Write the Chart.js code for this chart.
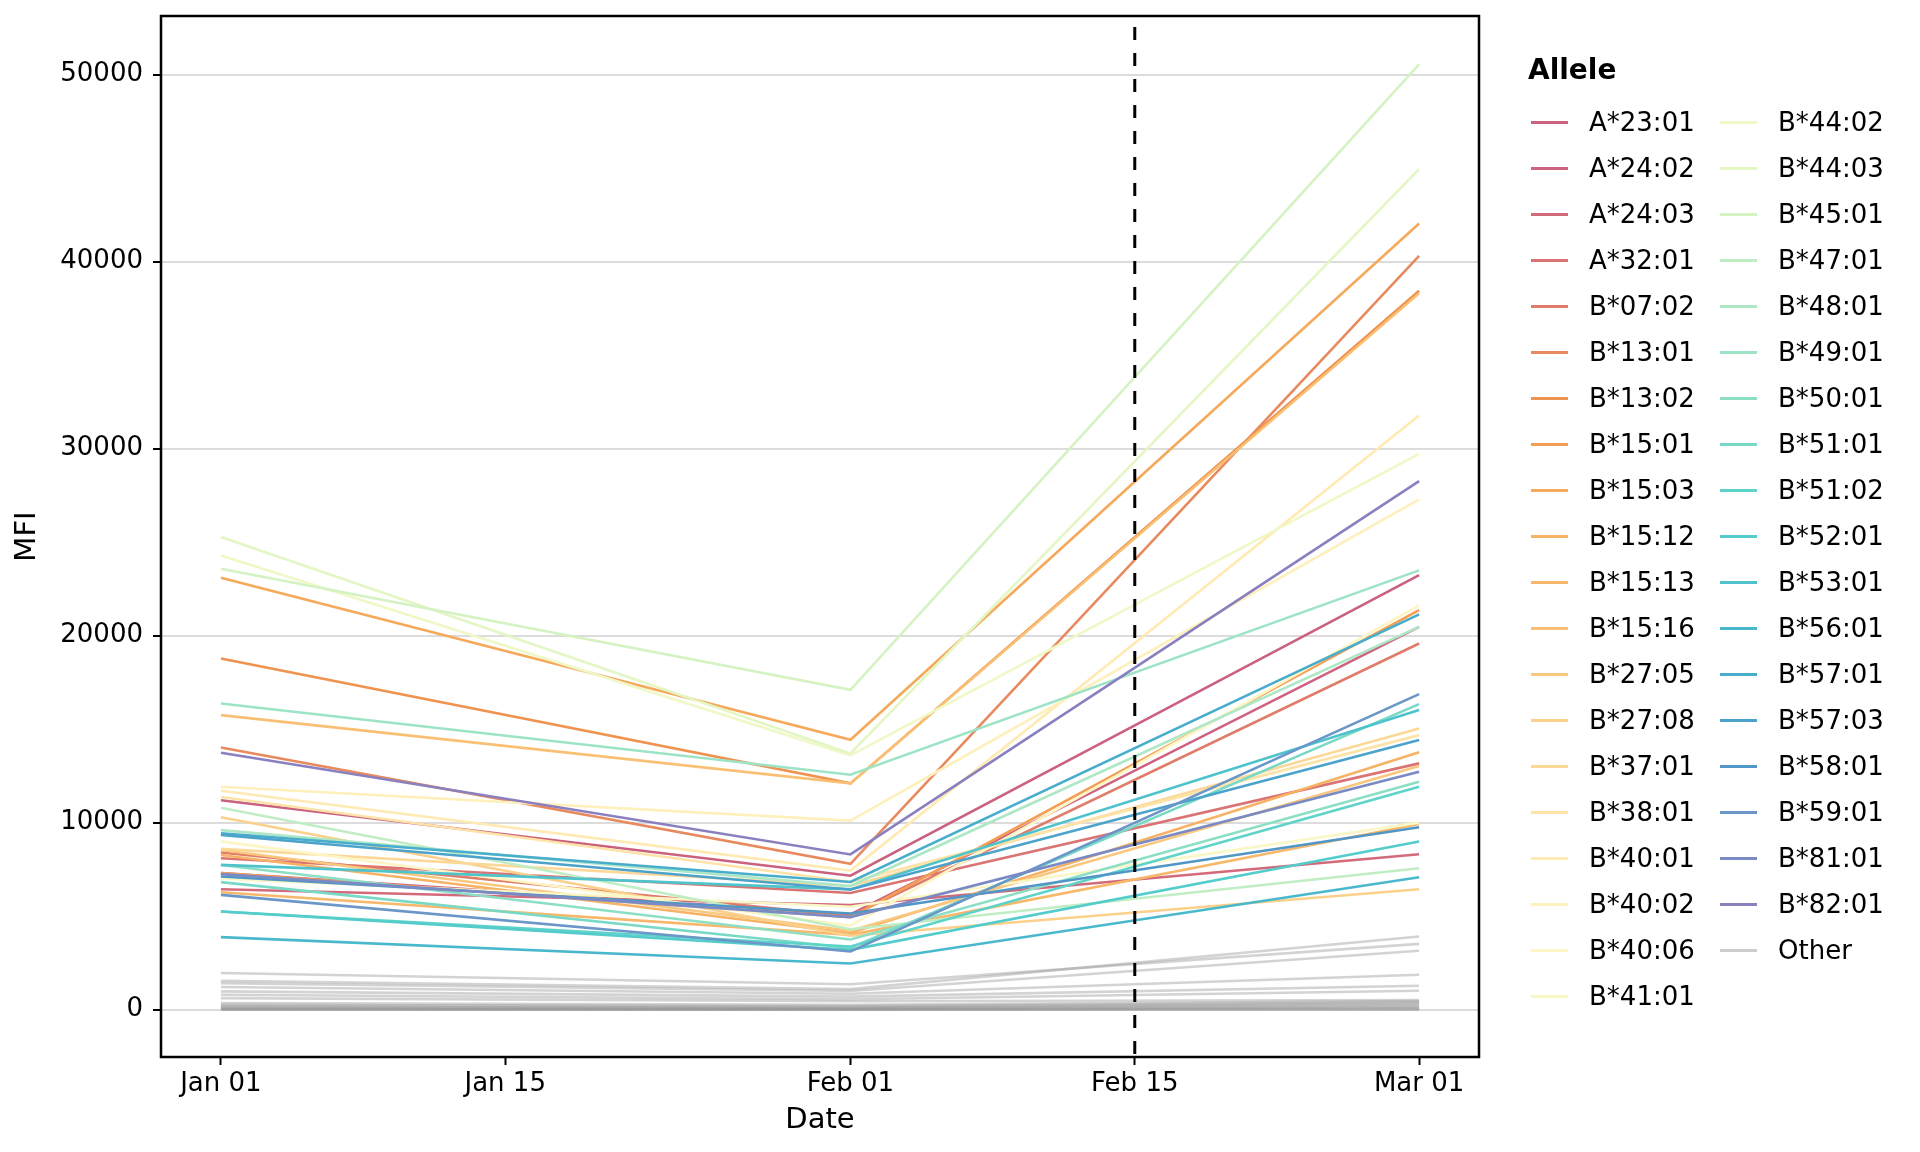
<!DOCTYPE html>
<html>
<head>
<meta charset="utf-8">
<title>MFI by allele</title>
<script src="https://cdn.jsdelivr.net/npm/chart.js@4.4.1/dist/chart.umd.min.js"></script>
<style>
  html, body { margin: 0; padding: 0; background: #fff; }
  #wrap { position: relative; width: 1920px; height: 1152px; font-family: 'DejaVu Sans', sans-serif; }
  #chart { position: absolute; left: 0; top: 0; }
  #legendTitle { position: absolute; left: 1528px; top: 52px; font-size: 28px; font-weight: bold; line-height: 36px; color: #000; }
  #legend { position: absolute; left: 1531px; top: 99px; display: grid; grid-template-rows: repeat(20, 46px); grid-auto-flow: column; grid-template-columns: 189px auto; }
  .item { display: flex; align-items: center; font-size: 26px; color: #000; white-space: nowrap; }
  .key { width: 37px; height: 3px; margin-right: 21px; flex: none; }
</style>
</head>
<body>
<div id="wrap">
  <canvas id="chart" width="1920" height="1152"></canvas>
  <div id="legendTitle">Allele</div>
  <div id="legend"></div>
</div>
<script>
// Sample dates (days since Jan 01) and axis ticks
const sampleDays = [0, 31, 59];
const xTickDays = [0, 14, 31, 45, 59];
const xTickLabels = ['Jan 01', 'Jan 15', 'Feb 01', 'Feb 15', 'Mar 01'];
const yTicks = [0, 10000, 20000, 30000, 40000, 50000];
const cutoffDay = 45; // Feb 15

// Named alleles and their MFI at Jan 01 / Feb 01 / Mar 01
const alleles = ['A*23:01', 'A*24:02', 'A*24:03', 'A*32:01', 'B*07:02', 'B*13:01', 'B*13:02', 'B*15:01',
    'B*15:03', 'B*15:12', 'B*15:13', 'B*15:16', 'B*27:05', 'B*27:08', 'B*37:01', 'B*38:01', 'B*40:01',
    'B*40:02', 'B*40:06', 'B*41:01', 'B*44:02', 'B*44:03', 'B*45:01', 'B*47:01', 'B*48:01', 'B*49:01',
    'B*50:01', 'B*51:01', 'B*51:02', 'B*52:01', 'B*53:01', 'B*56:01', 'B*57:01', 'B*57:03', 'B*58:01',
    'B*59:01', 'B*81:01', 'B*82:01'];
const janMFI = [11200, 7300, 6440, 8100, 8400, 14020, 18780, 7300,
    23100, 8270, 6280, 15750, 8540, 10290, 8600, 11370, 11710,
    11920, 9000, 7000, 24290, 25270, 23580, 10800, 9600, 16370,
    7740, 6820, 5250, 5250, 7740, 3880, 9430, 9340, 7120,
    6140, 7250, 13740];
const febMFI = [7160, 5100, 5600, 6240, 5000, 7800, 12100, 4950,
    14430, 4100, 4000, 12100, 4220, 3950, 6610, 6830, 7440,
    10110, 4490, 5500, 13600, 13700, 17100, 4300, 6610, 12560,
    3750, 3300, 3380, 3200, 6430, 2470, 6830, 6430, 5140,
    3110, 4950, 8300];
const marMFI = [23230, 20470, 8310, 13170, 19580, 40310, 38440, 21360,
    42040, 13760, 9930, 38300, 13030, 6440, 15040, 14680, 31770,
    27280, 21620, 10000, 29720, 44940, 50540, 7560, 20470, 23490,
    12190, 16340, 11920, 8990, 16020, 7080, 21140, 14420, 9750,
    16870, 12720, 28260];

// "Other" alleles (grey)
const otherJan = [1960, 1550, 1420, 1210, 980, 800, 620, 350, 260, 200, 140, 100, 60, 30, 10, 0];
const otherFeb = [1360, 1100, 1000, 850, 700, 560, 450, 260, 190, 140, 100, 70, 40, 20, 5, 0];
const otherMar = [3520, 3910, 3150, 1870, 1280, 1010, 520, 460, 400, 330, 260, 190, 130, 80, 40, 0];

// Line colours, one per allele
const alleleColors = ['#c9617f', '#cd6381', '#d26a7c', '#da7474', '#e07c6a', '#e8895e', '#ef9350', '#f39e52',
    '#f5a95b', '#f7b264', '#f8b86b', '#f9c074', '#fac77e', '#fbd08b', '#fcd898', '#fde3a8', '#feeab2',
    '#fef0bc', '#fdf5c4', '#f9f7c6', '#eff8c6', '#e3f6c4', '#d4f2c2', '#c0edc4', '#aee7c6', '#9de4c6',
    '#8cdfc5', '#78d9c6', '#5ed3c9', '#54cccb', '#4fc3cc', '#4ab8cc', '#48adcc', '#4ba2ca', '#5096c6',
    '#6a96c8', '#7a8ac4', '#8a80bf'];
const otherColor = 'rgba(150,150,150,0.42)';

function toPoints(vals) {
    return vals.map((v, i) => ({ x: sampleDays[i], y: v }));
}

const datasets = [];
otherJan.forEach((v, i) => {
    datasets.push({
        label: 'Other',
        data: toPoints([otherJan[i], otherFeb[i], otherMar[i]]),
        borderColor: otherColor,
        borderWidth: 2.6,
        order: 200
    });
});
alleles.forEach((name, i) => {
    datasets.push({
        label: name,
        data: toPoints([janMFI[i], febMFI[i], marMFI[i]]),
        borderColor: alleleColors[i],
        borderWidth: 2.6,
        order: 100 - i
    });
});

// Dashed vertical line + panel border
const panelPlugin = {
    id: 'panel',
    afterDatasetsDraw(chart) {
        const { ctx, chartArea, scales } = chart;
        const x = scales.x.getPixelForValue(cutoffDay);
        ctx.save();
        ctx.strokeStyle = '#000';
        ctx.lineWidth = 3;
        ctx.setLineDash([13, 13]);
        ctx.lineDashOffset = -11;
        ctx.beginPath();
        ctx.moveTo(x, chartArea.top);
        ctx.lineTo(x, chartArea.bottom);
        ctx.stroke();
        ctx.restore();
    },
    afterDraw(chart) {
        const { ctx, chartArea } = chart;
        ctx.save();
        ctx.strokeStyle = '#000';
        ctx.lineWidth = 2.5;
        ctx.strokeRect(chartArea.left, chartArea.top, chartArea.right - chartArea.left, chartArea.bottom - chartArea.top);
        ctx.restore();
    }
};

const tickFont = { family: 'DejaVu Sans', size: 26 };
const titleFont = { family: 'DejaVu Sans', size: 29 };

new Chart(document.getElementById('chart').getContext('2d'), {
    type: 'line',
    data: { datasets: datasets },
    options: {
        responsive: false,
        devicePixelRatio: 1,
        animation: false,
        layout: { padding: { top: 16, right: 441, bottom: 0, left: 0 } },
        elements: {
            point: { radius: 0 },
            line: { tension: 0, fill: false }
        },
        plugins: {
            legend: { display: false },
            tooltip: { enabled: false }
        },
        scales: {
            x: {
                type: 'linear',
                min: -2.95,
                max: 61.95,
                afterBuildTicks: (scale) => { scale.ticks = xTickDays.map(v => ({ value: v })); },
                afterFit: (scale) => {
                    scale.height = 95;
                    scale.paddingLeft = 0;
                    scale.paddingRight = 0;
                },
                ticks: {
                    autoSkip: false,
                    maxRotation: 0,
                    padding: 4,
                    color: '#000',
                    font: tickFont,
                    callback: (value, index) => xTickLabels[index]
                },
                grid: {
                    drawOnChartArea: false,
                    tickLength: 8,
                    tickColor: '#000',
                    tickWidth: 2
                },
                border: { display: false },
                title: {
                    display: true,
                    text: 'Date',
                    color: '#000',
                    font: titleFont,
                    padding: { top: 4, bottom: 14 }
                }
            },
            y: {
                type: 'linear',
                min: -2530,
                max: 53130,
                afterBuildTicks: (scale) => { scale.ticks = yTicks.map(v => ({ value: v })); },
                afterFit: (scale) => {
                    scale.width = 161;
                    scale.paddingTop = 0;
                    scale.paddingBottom = 0;
                },
                ticks: {
                    padding: 10,
                    color: '#000',
                    font: tickFont,
                    callback: (value) => String(value)
                },
                grid: {
                    color: '#dcdcdc',
                    lineWidth: 2,
                    tickLength: 8,
                    tickColor: '#000',
                    tickWidth: 2
                },
                border: { display: false },
                title: {
                    display: true,
                    text: 'MFI',
                    color: '#000',
                    font: titleFont,
                    padding: { top: 10, bottom: 0 }
                }
            }
        }
    },
    plugins: [panelPlugin]
});

// Legend: alleles in two columns, then "Other"
const legendEl = document.getElementById('legend');
const legendItems = alleles.map((name, i) => ({ name: name, color: alleleColors[i] }));
legendItems.push({ name: 'Other', color: '#cccccc' });
legendItems.forEach(item => {
    const row = document.createElement('div');
    row.className = 'item';
    const key = document.createElement('span');
    key.className = 'key';
    key.style.background = item.color;
    const text = document.createElement('span');
    text.textContent = item.name;
    row.appendChild(key);
    row.appendChild(text);
    legendEl.appendChild(row);
});
</script>
</body>
</html>
